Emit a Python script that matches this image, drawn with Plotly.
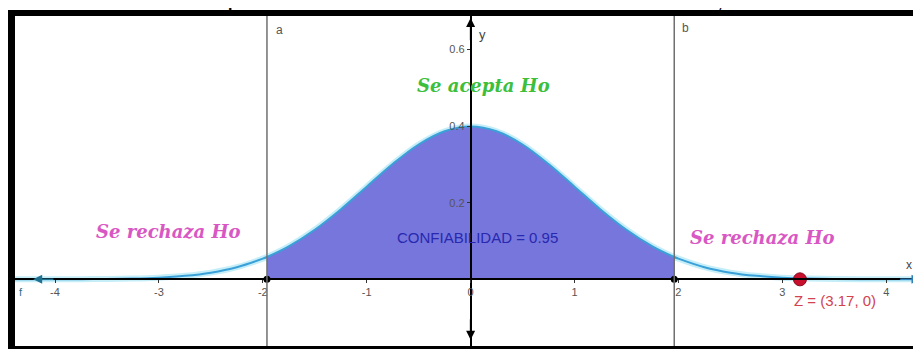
import numpy as np
import plotly.graph_objects as go

# valores (curva normal estandar)
x_curva = [-4.4, -4.0, -3.75, -3.5, -3.25, -3.0, -2.75, -2.5, -2.25, -2.0, -1.96, -1.75, -1.5, -1.25,
           -1.0, -0.75, -0.5, -0.25, 0.0, 0.25, 0.5, 0.75, 1.0, 1.25, 1.5, 1.75, 1.96, 2.0, 2.25,
           2.5, 2.75, 3.0, 3.25, 3.5, 3.75, 4.0, 4.35]
y_curva = [0.0, 0.0001, 0.0004, 0.0009, 0.002, 0.0044, 0.0091, 0.0175, 0.0317, 0.054, 0.0584, 0.0863,
           0.1295, 0.1826, 0.242, 0.3011, 0.3521, 0.3867, 0.3989, 0.3867, 0.3521, 0.3011, 0.242,
           0.1826, 0.1295, 0.0863, 0.0584, 0.054, 0.0317, 0.0175, 0.0091, 0.0044, 0.002, 0.0009,
           0.0004, 0.0001, 0.0]
a = -1.96
b = 1.96
z_obs = 3.17
ticks_x = [-4, -3, -2, -1, 0, 1, 2, 3, 4]
ticks_y = [0.2, 0.4, 0.6]

rx = [-4.385, 4.335]
ry = [-0.174, 0.6875]

x_curva = np.array(x_curva)
y_curva = np.array(y_curva)
dentro = (x_curva >= a) & (x_curva <= b)

fig = go.Figure()

# brillo de la curva (debajo del area)
fig.add_trace(go.Scatter(x=x_curva, y=y_curva, mode='lines', line=dict(color='#c6eef9', width=6, shape='spline'),
                         showlegend=False, hoverinfo='skip'))

# area de confiabilidad
fig.add_trace(go.Scatter(x=x_curva[dentro], y=y_curva[dentro], fill='tozeroy', fillcolor='#7676dc',
                         mode='lines', line=dict(width=0, shape='spline'), showlegend=False, hoverinfo='skip'))
fig.add_trace(go.Scatter(x=[a, b], y=[0, 0], mode='lines', line=dict(color='#22229a', width=1.5),
                         showlegend=False, hoverinfo='skip'))

# curva f
fig.add_trace(go.Scatter(x=x_curva, y=y_curva, mode='lines', line=dict(color='#3aa0d8', width=2, shape='spline'),
                         showlegend=False, name='f'))

fig.add_trace(go.Scatter(x=[a, b], y=[0, 0], mode='markers', marker=dict(color='black', size=7),
                         showlegend=False))
fig.add_trace(go.Scatter(x=[z_obs], y=[0], mode='markers',
                         marker=dict(color='#c8102e', size=13, line=dict(color='#8a0a1e', width=1)),
                         showlegend=False, name='Z'))

# rectas a y b
for v in [a, b]:
    fig.add_shape(type='line', xref='x', yref='paper', x0=v, x1=v, y0=0, y1=1,
                  line=dict(color='#6f6f6f', width=1.5), layer='above')

# marco negro
fig.add_shape(type='rect', xref='paper', yref='paper', x0=-7/906, x1=0, y0=-0.0091, y1=1.0182,
              fillcolor='black', line=dict(width=0), layer='above')
fig.add_shape(type='rect', xref='paper', yref='paper', x0=-7/906, x1=1.01, y0=1, y1=1.0182,
              fillcolor='black', line=dict(width=0), layer='above')
fig.add_shape(type='rect', xref='paper', yref='paper', x0=-7/906, x1=1.01, y0=-0.0091, y1=0,
              fillcolor='black', line=dict(width=0), layer='above')

xpos = (0 - ry[0]) / (ry[1] - ry[0])
ypos = (0 - rx[0]) / (rx[1] - rx[0])

fig.update_xaxes(range=rx, anchor='free', position=xpos, showline=True, linecolor='black', linewidth=1.5,
                 showgrid=False, zeroline=False, tickvals=ticks_x, ticktext=[str(t) for t in ticks_x],
                 ticks='outside', ticklen=3, tickcolor='#333',
                 tickfont=dict(size=11, color='#555', family='Liberation Sans'))
fig.update_yaxes(range=ry, anchor='free', position=ypos, showline=True, linecolor='black', linewidth=1.5,
                 showgrid=False, zeroline=False, tickvals=ticks_y, ticktext=[str(t) for t in ticks_y],
                 ticks='outside', ticklen=3, tickcolor='#333',
                 tickfont=dict(size=11, color='#555', family='Liberation Sans'))

anot = []
# flechas de los ejes
anot.append(dict(x=4.33, y=0, ax=4.12, ay=0, xref='x', yref='y', axref='x', ayref='y', showarrow=True,
                 arrowhead=2, arrowsize=1.2, arrowwidth=1.5, arrowcolor='#2f7fb8', text=''))
anot.append(dict(x=-4.21, y=0, ax=-4.0, ay=0, xref='x', yref='y', axref='x', ayref='y', showarrow=True,
                 arrowhead=2, arrowsize=1.2, arrowwidth=1.5, arrowcolor='#1f6f8f', text=''))
anot.append(dict(x=0, y=0.682, ax=0, ay=0.62, xref='x', yref='y', axref='x', ayref='y', showarrow=True,
                 arrowhead=2, arrowsize=1.2, arrowwidth=1.5, arrowcolor='black', text=''))
anot.append(dict(x=0, y=-0.158, ax=0, ay=-0.1, xref='x', yref='y', axref='x', ayref='y', showarrow=True,
                 arrowhead=2, arrowsize=1.2, arrowwidth=1.5, arrowcolor='black', text=''))

def texto(t, x, y, size, color, family='Liberation Sans'):
    return dict(x=x, y=y, xref='x', yref='y', text=t, showarrow=False,
                font=dict(size=size, color=color, family=family))

anot.append(texto('a', -1.84, 0.651, 12, '#555'))
anot.append(texto('b', 2.07, 0.656, 12, '#555'))
anot.append(texto('y', 0.11, 0.638, 13, '#444'))
anot.append(texto('x', 4.22, 0.037, 12, '#444'))
anot.append(texto('f', -4.33, -0.033, 11, '#2a6f8a'))
anot.append(texto('<i><b>Se acepta Ho</b></i>', 0.12, 0.507, 18, '#3cbf3c', 'DejaVu Serif'))
anot.append(texto('<i><b>Se rechaza Ho</b></i>', -2.91, 0.126, 18, '#d957c3', 'DejaVu Serif'))
anot.append(texto('<i><b>Se rechaza Ho</b></i>', 2.805, 0.110, 18, '#d957c3', 'DejaVu Serif'))
anot.append(texto('CONFIABILIDAD = 0.95', 0.062, 0.108, 15, '#2828b0'))
anot.append(texto('Z = (3.17, 0)', 3.51, -0.054, 15, '#d2424f'))

# restos del texto de arriba (cortado)
anot.append(dict(x=0.2318, y=1.003, xref='paper', yref='paper', yanchor='bottom', text='p',
                 showarrow=False, font=dict(size=28, color='black', family='Liberation Serif')))
anot.append(dict(x=0.789, y=1.003, xref='paper', yref='paper', yanchor='bottom', text='y',
                 showarrow=False, font=dict(size=28, color='black', family='Liberation Serif')))

# el body de la pagina deja 8px de margen
fig.update_layout(width=913, height=341, autosize=False, margin=dict(t=8, l=7, b=3, r=0),
                  plot_bgcolor='white', paper_bgcolor='white', annotations=anot,
                  showlegend=False)
fig.write_html("out.html")
